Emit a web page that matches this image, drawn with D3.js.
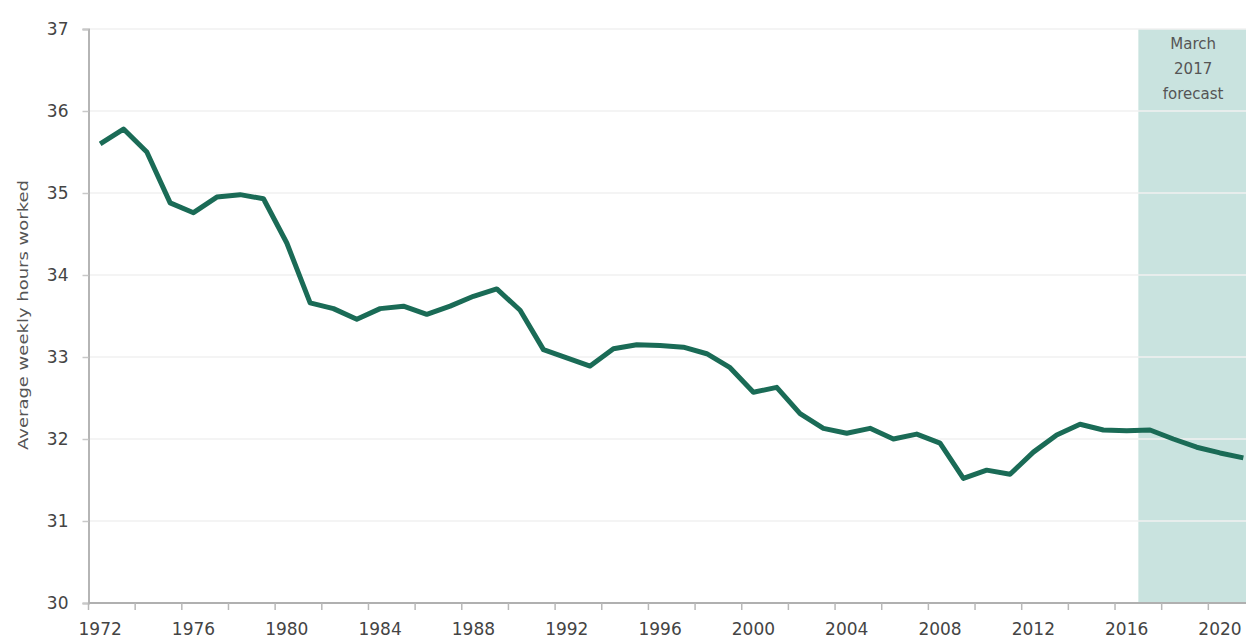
<!DOCTYPE html>
<html>
<head>
<meta charset="utf-8">
<script src="https://cdn.jsdelivr.net/npm/d3@7/dist/d3.min.js"></script>
<style>
  html, body { margin: 0; padding: 0; background: #fff; }
  svg { display: block; }
  text { font-family: "DejaVu Sans", sans-serif; }
</style>
</head>
<body>
<svg id="chart" width="1246" height="638"></svg>
<script>
// ---- Data ----
const years = d3.range(1972, 2022);
const hours = [
  35.60, 35.78, 35.50, 34.88, 34.76, 34.95, 34.98, 34.93, 34.39, 33.66,
  33.59, 33.46, 33.59, 33.62, 33.52, 33.62, 33.74, 33.83, 33.57, 33.09,
  32.99, 32.89, 33.10, 33.15, 33.14, 33.12, 33.04, 32.87, 32.57, 32.63,
  32.31, 32.13, 32.07, 32.13, 32.00, 32.06, 31.95, 31.52, 31.62, 31.57,
  31.84, 32.05, 32.18, 32.11, 32.10, 32.11, 32.00, 31.90, 31.83, 31.77
];
const yTicks = [30, 31, 32, 33, 34, 35, 36, 37];
const xLabelYears = d3.range(1972, 2022, 4);
const xTickYears = d3.range(1972, 2022, 2);
const forecastStart = 2017;
const forecastLabel = ["March", "2017", "forecast"];
const yTitle = "Average weekly hours worked";

// ---- Layout ----
const svg = d3.select("#chart");
const plotLeft = 88.5, plotBottom = 603, plotTop = 29;
const step = 23.33;
const x = d3.scaleBand().domain(years).range([plotLeft, plotLeft + step * years.length]).padding(0);
const y = d3.scaleLinear().domain([30, 37]).range([plotBottom, plotTop]);
const xc = d => x(d) + x.bandwidth() / 2;

// forecast shading
svg.append("rect")
  .attr("x", x(forecastStart))
  .attr("y", y(37))
  .attr("width", x.range()[1] - x(forecastStart))
  .attr("height", y(30) - y(37))
  .attr("fill", "#c9e3df");

// gridlines
svg.append("g").selectAll("line").data(yTicks.filter(d => d > 30)).join("line")
  .attr("x1", plotLeft).attr("x2", 1246)
  .attr("y1", d => y(d)).attr("y2", d => y(d))
  .attr("stroke", "#f0f0f0").attr("stroke-width", 1.5);

// y axis
const yAxis = svg.append("g").attr("transform", `translate(${plotLeft},0)`)
  .call(d3.axisLeft(y).tickValues(yTicks).tickSize(6).tickPadding(14).tickFormat(d3.format("d")));
yAxis.select(".domain").attr("stroke", "#b5b5b5").attr("stroke-width", 2);
yAxis.selectAll(".tick line").attr("stroke", "#c8c8c8").attr("stroke-width", 1.5);
yAxis.selectAll(".tick text").attr("fill", "#444").style("font-size", "17px");

// x axis baseline
svg.append("line")
  .attr("x1", plotLeft).attr("x2", 1246)
  .attr("y1", plotBottom).attr("y2", plotBottom)
  .attr("stroke", "#b0b0b0").attr("stroke-width", 2);

// x ticks at band boundaries
svg.append("g").selectAll("line").data(xTickYears).join("line")
  .attr("x1", d => x(d)).attr("x2", d => x(d))
  .attr("y1", plotBottom).attr("y2", plotBottom + 7)
  .attr("stroke", "#b8b8b8").attr("stroke-width", 1.5);

// x labels
svg.append("g").selectAll("text").data(xLabelYears).join("text")
  .attr("x", d => xc(d))
  .attr("y", 635)
  .attr("text-anchor", "middle")
  .attr("fill", "#444")
  .style("font-size", "17px")
  .text(d => d);

// y title
svg.append("text")
  .attr("transform", "translate(28,315) rotate(-90)")
  .attr("text-anchor", "middle")
  .attr("fill", "#555")
  .attr("textLength", 270)
  .attr("lengthAdjust", "spacingAndGlyphs")
  .style("font-size", "14px")
  .text(yTitle);

// forecast label
svg.append("g").selectAll("text").data(forecastLabel).join("text")
  .attr("x", (x(forecastStart) + 1246) / 2 + 1)
  .attr("y", (d, i) => 49 + i * 25)
  .attr("text-anchor", "middle")
  .attr("fill", "#555")
  .style("font-size", "15px")
  .text(d => d);

// line
const line = d3.line().x((d, i) => xc(years[i])).y(d => y(d));
svg.append("path")
  .datum(hours)
  .attr("d", line)
  .attr("fill", "none")
  .attr("stroke", "#1a6b56")
  .attr("stroke-width", 5)
  .attr("stroke-linejoin", "round")
  .attr("stroke-linecap", "butt");
</script>
</body>
</html>
